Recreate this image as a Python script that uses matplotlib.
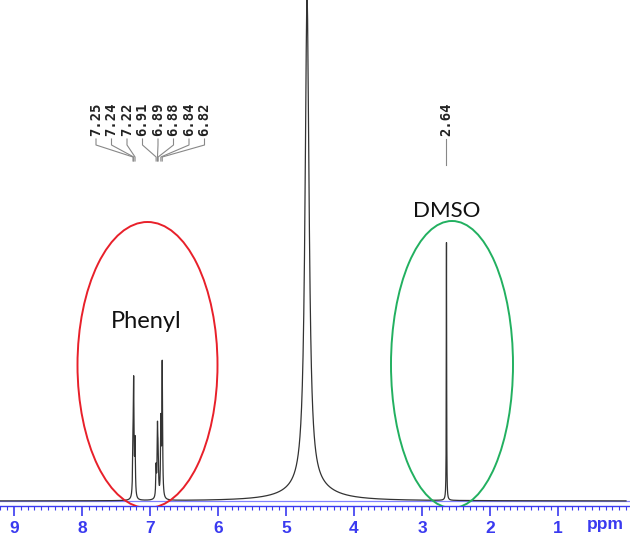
import numpy as np
import matplotlib
matplotlib.use("Agg")
import matplotlib.pyplot as plt
from matplotlib.patches import Ellipse
from matplotlib.ticker import MultipleLocator

# ---------------- data ----------------
peak_ppm    = [7.25, 7.24, 7.22, 6.91, 6.89, 6.88, 6.84, 6.82, 4.69, 2.64]
peak_height = [9.0, 22.0, 11.0, 6.0, 13.0, 8.0, 15.0, 27.0, 99.0, 52.3]
peak_width  = [0.006, 0.006, 0.006, 0.006, 0.006, 0.006, 0.006, 0.006, 0.036, 0.003]
water_base_ppm = 4.66
water_base_height = 3.0
water_base_width = 0.35

phenyl_labels = ["7.25", "7.24", "7.22", "6.91", "6.89", "6.88", "6.84", "6.82"]
dmso_labels = ["2.64"]
tick_values = [9, 8, 7, 6, 5, 4, 3, 2, 1]

# ---------------- figure ----------------
W, H = 630, 542
fig = plt.figure(figsize=(W / 100, H / 100), dpi=100)
ax = fig.add_axes([0, 36 / H, 1, 506 / H])
PXPPM = 68.0
PXY = 4.93
ax.set_xlim(9 + 14 / PXPPM, 9 - 616 / PXPPM)
ax.set_ylim(-5 / PXY, 501 / PXY)

def py(ypix):
    # pixel row (from top) -> data y
    return (501 - ypix) / PXY

def px(xpix):
    return 9 - (xpix - 14) / PXPPM

x = np.linspace(0, 9.2, 40000)
y = np.zeros_like(x)
for p, h, w in zip(peak_ppm, peak_height, peak_width):
    y += h / (1 + ((x - p) / w) ** 2)
y += water_base_height / (1 + ((x - water_base_ppm) / water_base_width) ** 2)

blue = "#3a3af0"
ax.axhline(0, color="#8080ff", lw=0.9, zorder=1)
ax.plot(x, y, color="#333333", lw=0.9, zorder=2)

# axis styling
for s in ["left", "right", "top"]:
    ax.spines[s].set_visible(False)
ax.spines["bottom"].set_color(blue)
ax.spines["bottom"].set_linewidth(1.0)
ax.set_yticks([])
ax.set_xticks(tick_values)
ax.xaxis.set_minor_locator(MultipleLocator(0.1))
ax.tick_params(axis="x", which="major", direction="out", length=7, width=1.2,
               color=blue, labelcolor=blue, pad=4)
ax.tick_params(axis="x", which="minor", direction="out", length=3, width=0.8, color=blue)
for lab in ax.get_xticklabels():
    lab.set_fontfamily("Liberation Sans")
    lab.set_fontweight("bold")
    lab.set_fontsize(12.5)
fig.text(605 / W, 1 - 524 / H, "ppm", color=blue, fontfamily="Liberation Sans",
         fontweight="bold", fontsize=12.5, ha="center", va="center")

# peak labels (phenyl)
lab_x_pix = [96, 111.5, 127, 142.5, 158, 173.5, 189, 204.5]
phenyl_ppm = peak_ppm[:8]
lc = "#888888"
for lx, lab, pp in zip(lab_x_pix, phenyl_labels, phenyl_ppm):
    xl = px(lx)
    ax.text(xl, py(136), lab, rotation=90, ha="center", va="bottom",
            fontfamily="DejaVu Sans Mono", fontweight="bold", fontsize=10, color="#222222")
    ax.plot([xl, xl, pp, pp], [py(139), py(145), py(157), py(161)], color=lc, lw=0.8)

# DMSO label
ax.text(peak_ppm[9], py(136), dmso_labels[0], rotation=90, ha="center", va="bottom",
        fontfamily="DejaVu Sans Mono", fontweight="bold", fontsize=10, color="#222222")
ax.plot([peak_ppm[9], peak_ppm[9]], [py(139), py(165)], color=lc, lw=0.8)

# ellipses
red_e = Ellipse((px(147.5), py(365)), width=140 / PXPPM, height=286 / PXY,
                fill=False, edgecolor="#e8202a", lw=1.4, zorder=3)
green_e = Ellipse((px(452), py(364.5)), width=122 / PXPPM, height=287 / PXY,
                  fill=False, edgecolor="#22b060", lw=1.4, zorder=3)
ax.add_patch(red_e)
ax.add_patch(green_e)
ax.text(px(146), py(322), "Phenyl", fontfamily="Lato", fontsize=17,
        ha="center", va="center", color="#111111")
ax.text(px(447), py(211), "DMSO", fontfamily="Lato", fontsize=16,
        ha="center", va="center", color="#111111")

fig.savefig("out.png", dpi=100)
